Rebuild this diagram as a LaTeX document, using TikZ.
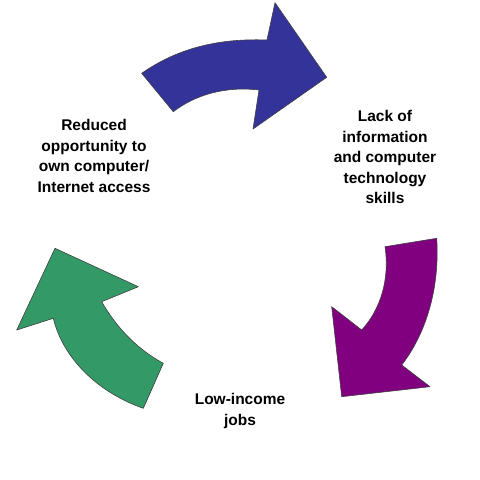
\documentclass[tikz,border=0pt]{standalone}
\usepackage{fontspec}
\setmainfont{Liberation Sans}
\definecolor{arrblue}{RGB}{51,51,153}
\definecolor{arrpurple}{RGB}{128,0,128}
\definecolor{arrgreen}{RGB}{51,153,102}
\begin{document}
\begin{tikzpicture}[x=1pt,y=-1pt,
  bigarrow/.style={draw=black!75,line width=0.6pt,line join=round},
  label/.style={align=center,inner sep=0pt,font=\bfseries\fontsize{15.5}{20.5}\selectfont}]
\useasboundingbox (0,0) rectangle (480,480);
% blue arrow (top)
\path[bigarrow,fill=arrblue]
  (141.7,73.3) .. controls (175,50) and (215,38) .. (267,40)
  -- (275,2.7) -- (326.7,77.3) -- (253,129) -- (259,90)
  .. controls (225,86) and (195,95) .. (173.3,111.7) -- cycle;
% purple arrow (right)
\path[bigarrow,fill=arrpurple]
  (385,246.7) -- (436.7,238.3)
  .. controls (440,290) and (425,335) .. (401.7,365)
  -- (430,386.7) -- (341.7,396.7) -- (331.7,306.7) -- (361.7,330)
  .. controls (380,310) and (390,280) .. cycle;
% green arrow (left)
\path[bigarrow,fill=arrgreen]
  (163.3,363.3) -- (143.3,408.3)
  .. controls (97,392) and (63,358) .. (53.3,318.3)
  -- (16.7,330) -- (55,248.3) -- (138.3,286.7) -- (101.7,301.7)
  .. controls (115,325) and (135,348) .. cycle;
% texts
\node[label] (reduced) at (94,156) {Reduced\\opportunity to\\own computer/\\Internet access};
\node[label] (lack) at (385,157.3) {Lack of\\information\\and computer\\technology\\skills};
\node[label] (low) at (240,411) {Low-income\\jobs};
\end{tikzpicture}
\end{document}
